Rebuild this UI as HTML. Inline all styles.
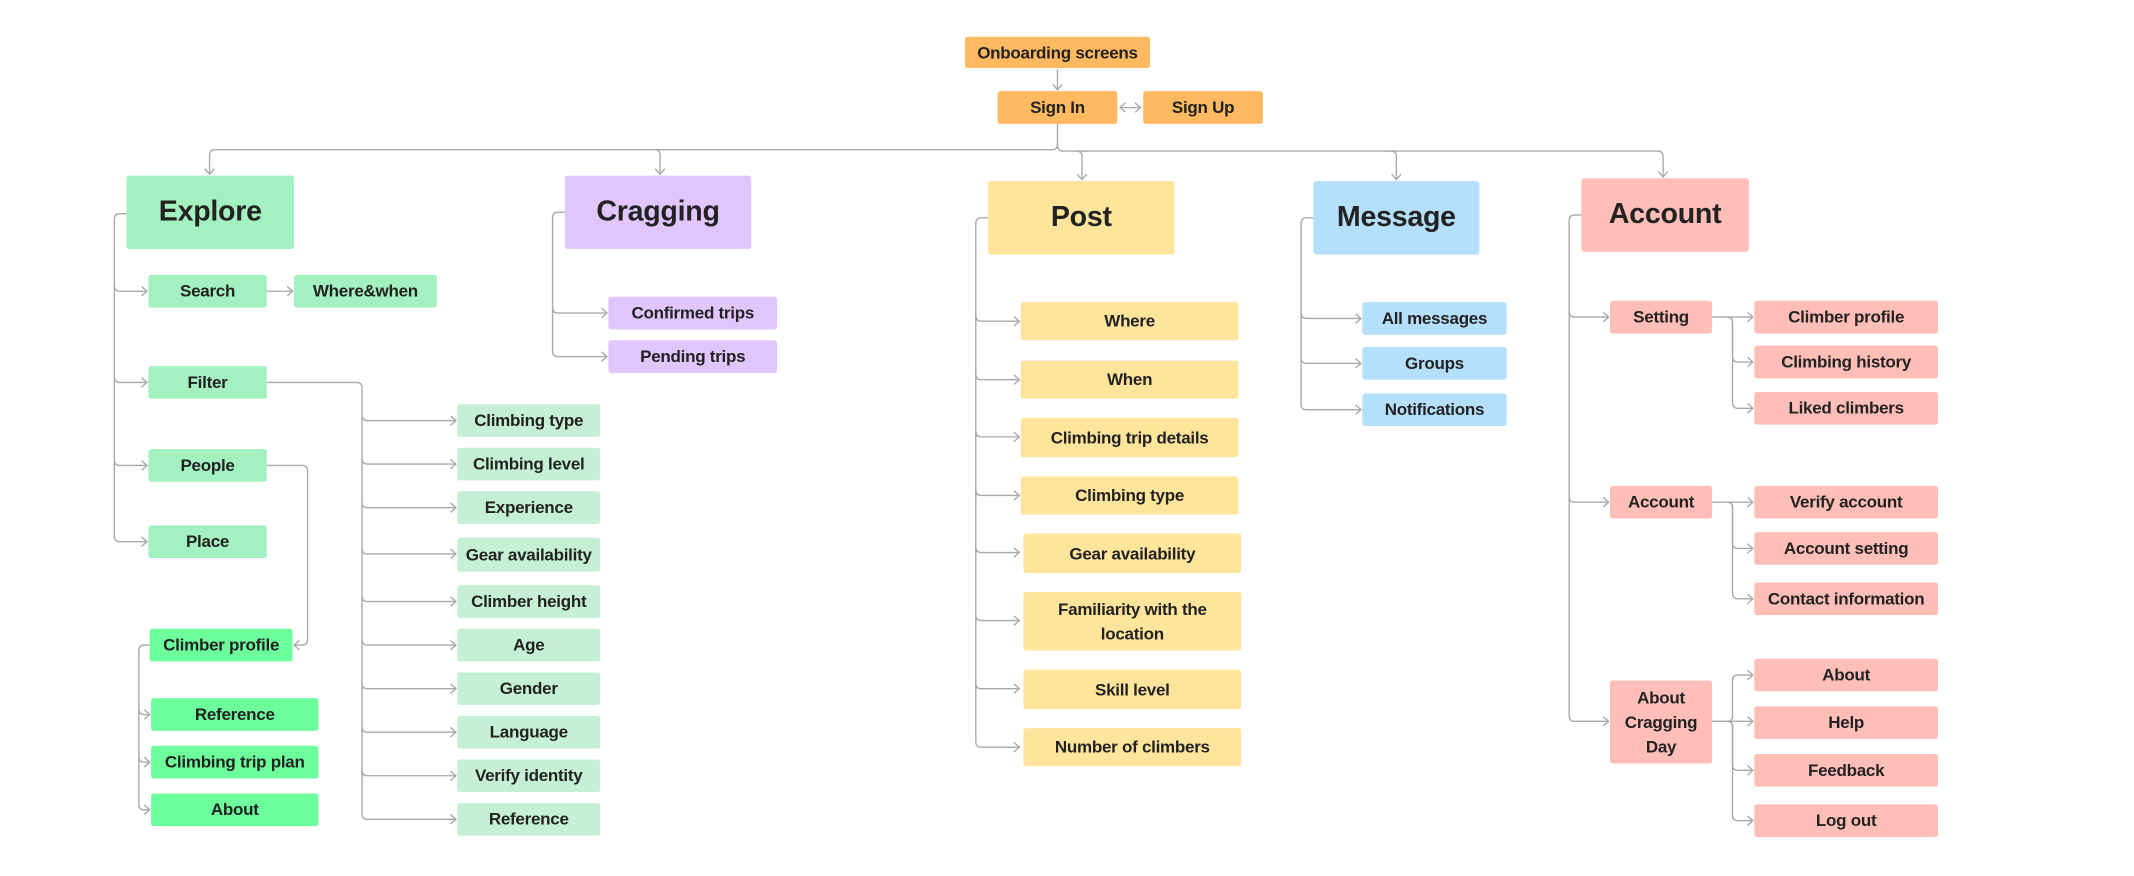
<!DOCTYPE html>
<html><head><meta charset="utf-8"><style>
html,body{margin:0;padding:0;background:#fff;}
body{width:2134px;height:876px;overflow:hidden;position:relative;}
#c{position:absolute;left:0;top:0;width:1568px;height:644px;transform:scale(1.36097);transform-origin:0 0;}
.b{position:absolute;display:flex;align-items:center;justify-content:center;text-align:center;font-family:"Liberation Sans",sans-serif;font-weight:bold;font-size:12.5px;color:#222;border-radius:2px;line-height:18px;letter-spacing:-0.2px}
.t{font-size:21px;}
.o{background:#ffb961}.g{background:#a3f1c0}.p{background:#e1c5fd}.y{background:#ffe49b}.u{background:#b4dffd}.r{background:#ffbeb8}.cg{background:#6cff9c}.lg{background:#c6f0d6}
svg{position:absolute;left:0;top:0}
</style></head><body><div id="c">
<svg id="s" width="1568" height="644" viewBox="0 0 1568 644" fill="none" stroke="#a8a8a8" stroke-width="1"></svg>
<div class="b o" style="left:709px;top:27px;width:136px;height:23px">Onboarding screens</div>
<div class="b o" style="left:733px;top:67px;width:88px;height:24px">Sign In</div>
<div class="b o" style="left:840px;top:67px;width:88px;height:24px">Sign Up</div>
<div class="b g t" style="left:93px;top:129px;width:123px;height:54px">Explore</div>
<div class="b p t" style="left:415px;top:129px;width:137px;height:54px">Cragging</div>
<div class="b y t" style="left:726px;top:133px;width:137px;height:54px">Post</div>
<div class="b u t" style="left:965px;top:133px;width:122px;height:54px">Message</div>
<div class="b r t" style="left:1162px;top:131px;width:123px;height:54px">Account</div>

<div class="b g" style="left:109px;top:202px;width:87px;height:24px">Search</div>
<div class="b g" style="left:216px;top:202px;width:105px;height:24px">Where&amp;when</div>
<div class="b g" style="left:109px;top:269px;width:87px;height:24px">Filter</div>
<div class="b g" style="left:109px;top:330px;width:87px;height:24px">People</div>
<div class="b g" style="left:109px;top:386px;width:87px;height:24px">Place</div>
<div class="b cg" style="left:110px;top:462px;width:105px;height:24px">Climber profile</div>
<div class="b cg" style="left:111px;top:513px;width:123px;height:24px">Reference</div>
<div class="b cg" style="left:111px;top:548px;width:123px;height:24px">Climbing trip plan</div>
<div class="b cg" style="left:111px;top:583px;width:123px;height:24px">About</div>

<div class="b lg" style="left:336px;top:297px;width:105px;height:24px">Climbing type</div>
<div class="b lg" style="left:336px;top:329px;width:105px;height:24px">Climbing level</div>
<div class="b lg" style="left:336px;top:361px;width:105px;height:24px">Experience</div>
<div class="b lg" style="left:336px;top:395px;width:105px;height:25px">Gear availability</div>
<div class="b lg" style="left:336px;top:430px;width:105px;height:24px">Climber height</div>
<div class="b lg" style="left:336px;top:462px;width:105px;height:24px">Age</div>
<div class="b lg" style="left:336px;top:494px;width:105px;height:24px">Gender</div>
<div class="b lg" style="left:336px;top:526px;width:105px;height:24px">Language</div>
<div class="b lg" style="left:336px;top:558px;width:105px;height:24px">Verify identity</div>
<div class="b lg" style="left:336px;top:590px;width:105px;height:24px">Reference</div>

<div class="b p" style="left:447px;top:218px;width:124px;height:24px">Confirmed trips</div>
<div class="b p" style="left:447px;top:250px;width:124px;height:24px">Pending trips</div>

<div class="b y" style="left:750px;top:222px;width:160px;height:28px">Where</div>
<div class="b y" style="left:750px;top:265px;width:160px;height:28px">When</div>
<div class="b y" style="left:750px;top:307px;width:160px;height:29px">Climbing trip details</div>
<div class="b y" style="left:750px;top:350px;width:160px;height:28px">Climbing type</div>
<div class="b y" style="left:752px;top:392px;width:160px;height:29px">Gear availability</div>
<div class="b y" style="left:752px;top:435px;width:160px;height:43px">Familiarity with the<br>location</div>
<div class="b y" style="left:752px;top:492px;width:160px;height:29px">Skill level</div>
<div class="b y" style="left:752px;top:535px;width:160px;height:28px">Number of climbers</div>

<div class="b u" style="left:1001px;top:222px;width:106px;height:24px">All messages</div>
<div class="b u" style="left:1001px;top:255px;width:106px;height:24px">Groups</div>
<div class="b u" style="left:1001px;top:289px;width:106px;height:24px">Notifications</div>

<div class="b r" style="left:1183px;top:221px;width:75px;height:24px">Setting</div>
<div class="b r" style="left:1289px;top:221px;width:135px;height:24px">Climber profile</div>
<div class="b r" style="left:1289px;top:254px;width:135px;height:24px">Climbing history</div>
<div class="b r" style="left:1289px;top:288px;width:135px;height:24px">Liked climbers</div>
<div class="b r" style="left:1183px;top:357px;width:75px;height:24px">Account</div>
<div class="b r" style="left:1289px;top:357px;width:135px;height:24px">Verify account</div>
<div class="b r" style="left:1289px;top:391px;width:135px;height:24px">Account setting</div>
<div class="b r" style="left:1289px;top:428px;width:135px;height:24px">Contact information</div>
<div class="b r" style="left:1183px;top:500px;width:75px;height:61px">About<br>Cragging<br>Day</div>
<div class="b r" style="left:1289px;top:484px;width:135px;height:24px">About</div>
<div class="b r" style="left:1289px;top:519px;width:135px;height:24px">Help</div>
<div class="b r" style="left:1289px;top:554px;width:135px;height:24px">Feedback</div>
<div class="b r" style="left:1289px;top:591px;width:135px;height:24px">Log out</div>
</div>
<script>
var s=document.getElementById('s'),d='';
function P(p){d+='<path d="'+p+'"/>';}
function aR(x,y){P('M'+(x-4)+','+(y-3.5)+' L'+x+','+y+' L'+(x-4)+','+(y+3.5));}
function aL(x,y){P('M'+(x+4)+','+(y-3.5)+' L'+x+','+y+' L'+(x+4)+','+(y+3.5));}
function aD(x,y){P('M'+(x-3.5)+','+(y-4)+' L'+x+','+y+' L'+(x+3.5)+','+(y-4));}
// spine: parent left at (px,py), spine x sx, children ys, child left cx
function spine(px,py,sx,ys,cx){
 var last=ys[ys.length-1];
 P('M'+px+','+py+' H'+(sx+4)+' Q'+sx+','+py+' '+sx+','+(py+4)+' V'+(last-4));
 ys.forEach(function(y){P('M'+sx+','+(y-4)+' Q'+sx+','+y+' '+(sx+4)+','+y+' H'+(cx-1));aR(cx-1,y);});
}
// branch from parent right
function br(px,py,sx,ys,cx){
 P('M'+px+','+py+' H'+(cx-1));aR(cx-1,py);
 var mn=Math.min.apply(null,ys),mx=Math.max.apply(null,ys);
 ys.forEach(function(y){ if(y==py)return;
  if(y>py){P('M'+(sx-4)+','+py+' Q'+sx+','+py+' '+sx+','+(py+4)+' V'+(y-4)+' Q'+sx+','+y+' '+(sx+4)+','+y+' H'+(cx-1));}
  else{P('M'+(sx-4)+','+py+' Q'+sx+','+py+' '+sx+','+(py-4)+' V'+(y+4)+' Q'+sx+','+y+' '+(sx+4)+','+y+' H'+(cx-1));}
  aR(cx-1,y);});
}
// top
P('M777,51 V66');aD(777,66);
P('M823,79 H838');aR(838,79);aL(823,79);
P('M777,91 V106 Q777,110 773,110 H158 Q154,110 154,114 V128');aD(154,128);
P('M481,110 Q485,110 485,114 V128');aD(485,128);
P('M777,106 Q777,111 781,111 H1218 Q1222,111 1222,115 V130');aD(1222,130);
P('M791,111 Q795,111 795,115 V132');aD(795,132);
P('M1022,111 Q1026,111 1026,115 V132');aD(1026,132);
// explore
spine(93,157,84,[214,281,342,398],109);
P('M196,214 H215');aR(215,214);
P('M196,281 H262 Q266,281 266,285 V598');
[309,341,373,407,442,474,506,538,570,602].forEach(function(y){P('M266,'+(y-4)+' Q266,'+y+' 270,'+y+' H335');aR(335,y);});
P('M196,342 H222 Q226,342 226,346 V470 Q226,474 222,474 H216');aL(216,474);
spine(110,474,102,[525,560,595],111);
// cragging
spine(415,156,406,[230,262],447);
// post
spine(726,160,717,[236,279,321,364,406,456,506,549],750);
// message
spine(965,160,956,[234,267,301],1001);
// account
spine(1162,158,1153,[233,369,530],1183);
br(1258,233,1273,[233,266,300],1289);
br(1258,369,1273,[369,403,440],1289);
br(1258,530,1273,[496,530,566,603],1289);
s.innerHTML=d;
</script>
</body></html>
